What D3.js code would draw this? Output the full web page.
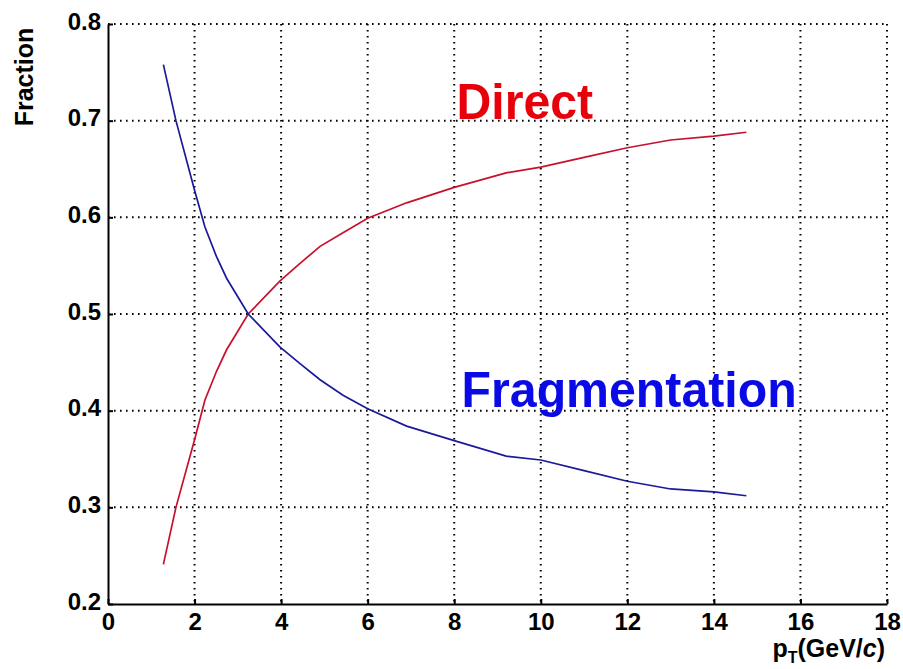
<!DOCTYPE html>
<html>
<head>
<meta charset="utf-8">
<script src="https://cdn.jsdelivr.net/npm/d3@7"></script>
<style>
  html, body { margin: 0; padding: 0; background: #fff; }
  text { font-family: "Liberation Sans", Arial, Helvetica, sans-serif; font-weight: bold; }
</style>
</head>
<body>
<div id="chart"></div>
<script>
// transverse momentum (GeV/c)
const pt = [1.28, 1.57, 2.0, 2.24, 2.51, 2.74, 3.24, 3.97, 4.43, 4.9, 5.43, 6.0, 6.9, 8.0, 9.2, 10.0, 11.0, 12.0, 13.0, 14.0, 14.75];
const fragmentation = [0.758, 0.700, 0.628, 0.590, 0.559, 0.537, 0.500, 0.466, 0.449, 0.432, 0.416, 0.402, 0.384, 0.369, 0.353, 0.349, 0.338, 0.327, 0.319, 0.316, 0.312];
const direct = [0.241, 0.300, 0.370, 0.411, 0.441, 0.463, 0.500, 0.534, 0.552, 0.570, 0.584, 0.599, 0.615, 0.631, 0.646, 0.652, 0.662, 0.672, 0.680, 0.684, 0.688];

const xTicks = [0, 2, 4, 6, 8, 10, 12, 14, 16, 18];
const yTicks = [0.2, 0.3, 0.4, 0.5, 0.6, 0.7, 0.8];

const seriesNames = ["Direct", "Fragmentation"];
const labelX = [8.05, 8.17];
const labelY = [0.702, 0.404];

const W = 903, H = 669;
const margin = { top: 24, right: 16, bottom: 65, left: 108 };
const width = W - margin.left - margin.right;
const height = H - margin.top - margin.bottom;

const svg = d3.select("#chart").append("svg")
    .attr("width", W)
    .attr("height", H);

svg.append("rect").attr("width", W).attr("height", H).attr("fill", "#fff");

const g = svg.append("g")
    .attr("transform", `translate(${margin.left},${margin.top})`);

const x = d3.scaleLinear().domain([0, 18]).range([0, width]);
const y = d3.scaleLinear().domain([0.2, 0.8]).range([height, 0]);

// grid (dotted), includes top and right frame
const grid = g.append("g").attr("class", "grid")
    .attr("stroke", "#000")
    .attr("stroke-width", 2)
    .attr("stroke-dasharray", "1.6,4.4");

grid.selectAll("line.gx").data(xTicks.filter(d => d > 0)).join("line")
    .attr("class", "gx")
    .attr("x1", d => x(d)).attr("x2", d => x(d))
    .attr("y1", 0).attr("y2", height);

grid.selectAll("line.gy").data(yTicks.filter(d => d > 0.2)).join("line")
    .attr("class", "gy")
    .attr("x1", 0).attr("x2", width)
    .attr("y1", d => y(d)).attr("y2", d => y(d));

// axes
const xAxis = d3.axisBottom(x).tickValues(xTicks).tickFormat(d3.format("d"))
    .tickSizeInner(-5).tickSizeOuter(0).tickPadding(9);
const yAxis = d3.axisLeft(y).tickValues(yTicks).tickFormat(d3.format(".1f"))
    .tickSizeInner(-5).tickSizeOuter(0).tickPadding(7);

const gx = g.append("g").attr("transform", `translate(0,${height})`).call(xAxis);
const gy = g.append("g").call(yAxis);

[gx, gy].forEach(a => {
    a.select(".domain").attr("stroke", "#000").attr("stroke-width", 2);
    a.selectAll(".tick line").attr("stroke", "#000").attr("stroke-width", 2);
    a.selectAll(".tick text")
        .attr("fill", "#000")
        .style("font-size", "24px")
        .style("font-family", "'Liberation Sans', Arial, sans-serif")
        .style("font-weight", "bold");
});
gy.selectAll(".tick text").attr("dy", "0.22em");
gx.selectAll(".tick text").attr("dy", "0.69em");

// curves
const line = d3.line()
    .x(d => x(d[0]))
    .y(d => y(d[1]));

const curves = [
    { values: direct, color: "#c8102e" },
    { values: fragmentation, color: "#1a1a9a" }
];

g.selectAll("path.curve").data(curves).join("path")
    .attr("class", "curve")
    .attr("fill", "none")
    .attr("stroke", d => d.color)
    .attr("stroke-width", 1.7)
    .attr("d", d => line(pt.map((p, i) => [p, d.values[i]])));

// series labels
const labelColors = ["#e8000b", "#0a0ae6"];
g.selectAll("text.series").data(seriesNames).join("text")
    .attr("class", "series")
    .attr("transform", (d, i) => `translate(${x(labelX[i])},${y(labelY[i])}) scale(0.965,1)`)
    .attr("fill", (d, i) => labelColors[i])
    .style("font-size", "50px")
    .text(d => d);

// axis titles
svg.append("text")
    .attr("transform", `translate(33,77) rotate(-90)`)
    .attr("text-anchor", "middle")
    .style("font-size", "25px")
    .attr("fill", "#000")
    .text("Fraction");

const xt = svg.append("text")
    .attr("x", 885)
    .attr("y", 657)
    .attr("text-anchor", "end")
    .style("font-size", "25px")
    .attr("fill", "#000");
xt.append("tspan").text("p");
xt.append("tspan").attr("dy", 6).style("font-size", "16px").text("T");
xt.append("tspan").attr("dy", -6).text("(GeV/");
xt.append("tspan").style("font-style", "italic").text("c");
xt.append("tspan").text(")");
</script>
</body>
</html>
